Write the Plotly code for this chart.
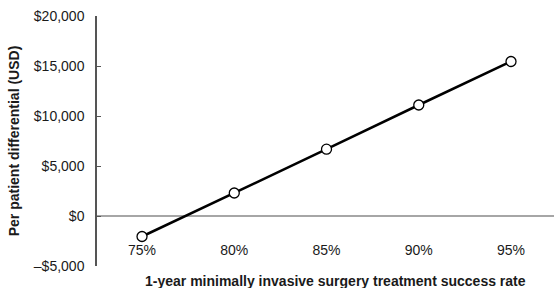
import plotly.graph_objects as go

categories = ["75%", "80%", "85%", "90%", "95%"]
values = [-2050, 2300, 6680, 11100, 15450]
y_tickvals = [-5000, 0, 5000, 10000, 15000, 20000]
y_ticktext = ["–$5,000", "$0", "$5,000", "$10,000", "$15,000", "$20,000"]
x_title = "1-year minimally invasive surgery treatment success rate"
y_title = "Per patient differential (USD)"

FONT = "Liberation Sans, Arial, sans-serif"
TXT = "#1a1a1a"

xs = list(range(len(categories)))

fig = go.Figure()
fig.add_trace(go.Scatter(
    x=xs, y=values, mode="lines+markers",
    line=dict(color="black", width=2.5),
    marker=dict(size=10, color="white", line=dict(color="black", width=1.3)),
    showlegend=False, cliponaxis=False,
))

fig.update_layout(
    width=554, height=288,
    margin=dict(l=97, r=0, t=16, b=22),
    paper_bgcolor="white", plot_bgcolor="white",
    font=dict(family=FONT, size=14, color=TXT),
    xaxis=dict(
        range=[-0.488, 4.466], tickvals=xs, ticktext=categories,
        showgrid=False, showline=False, zeroline=False, ticks="",
        anchor="free", position=0.106, tickfont=dict(size=14, color=TXT),
    ),
    yaxis=dict(
        range=[-5000, 20000], tickvals=y_tickvals, ticktext=y_ticktext,
        showgrid=False, showline=True, linecolor="#555555", linewidth=1.5,
        ticks="inside", ticklen=4, tickcolor="#555555", tickwidth=1.2,
        ticklabelstandoff=8,
        zeroline=True, zerolinecolor="#a6a6a6", zerolinewidth=1.5,
        tickfont=dict(size=14, color=TXT),
        title=dict(text="<b>" + y_title + "</b>", font=dict(size=14, color=TXT), standoff=11),
        automargin=False,
    ),
    annotations=[dict(
        text="<b>" + x_title + "</b>", xref="paper", yref="paper",
        x=(335 - 97) / 457, y=-0.058, xanchor="center", yanchor="middle",
        showarrow=False, font=dict(size=14, color=TXT), borderpad=0,
    )],
)

fig.write_html("out.html", post_script="document.body.style.margin='0';",
               config={"displayModeBar": False})
